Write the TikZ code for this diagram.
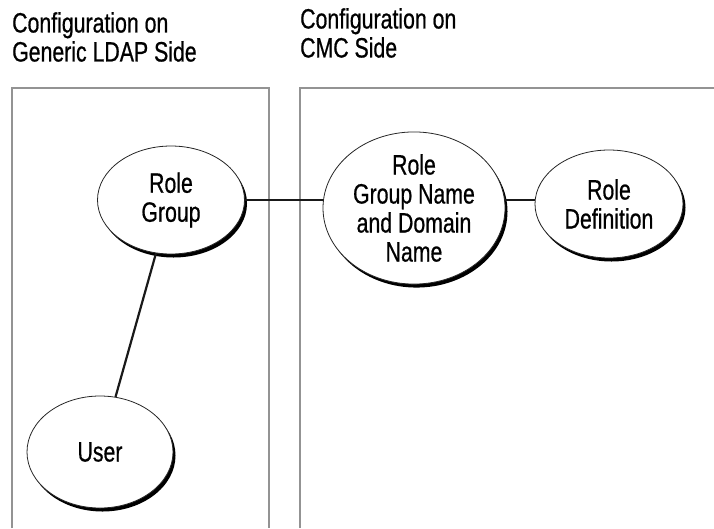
\documentclass[tikz,border=0pt]{standalone}
\usepackage{fontspec}
\setmainfont{Liberation Sans}[FakeStretch=0.76, FakeBold=0.6]
\usepackage{tikz}
\usetikzlibrary{shapes.geometric, shadows, positioning}

\tikzset{
  rolenode/.style={ellipse, draw=black!85, line width=0.8pt, fill=white, align=center,
    inner sep=0pt, drop shadow={shadow xshift=2.5pt, shadow yshift=-3.5pt, fill=black, opacity=1}},
  panel/.style={draw=gray!85, line width=1.2pt},
  heading/.style={anchor=north west, inner sep=0pt, align=left},
  link/.style={line width=2.2pt, black!90}
}

\begin{document}
\begin{tikzpicture}[x=1pt, y=-1pt, font=\fontsize{28}{29}\selectfont]
\useasboundingbox (0,0) rectangle (714,528);

% Panels (open at the bottom and at the right)
\draw[panel] (12,528) -- (12,88) -- (269,88) -- (269,528);
\draw[panel] (300,528) -- (300,88) -- (714,88);

% Headings
\node[heading] (lhead) at (12,12) {Configuration on\\Generic LDAP Side};
\node[heading] (rhead) at (300,8) {Configuration on\\CMC Side};

% Generic LDAP side
\node[rolenode, minimum width=147pt, minimum height=108pt] (rg) at (171,200) {Role\\Group};
\node[rolenode, minimum width=146pt, minimum height=112pt] (user) at (100,452) {User};

% CMC side
\node[rolenode, minimum width=182pt, minimum height=125pt] (rgname) at (414,208) {Role\\Group Name\\and Domain\\Name};
\node[rolenode, minimum width=148pt, minimum height=108pt] (rdef) at (609,204) {Role\\Definition};

% Connectors
\draw[link] (rg.east) -- (rg.east -| rgname.west);
\draw[link] (rg.east -| rgname.east) -- (rg.east -| rdef.west);
\draw[link] (rg) -- (user);
\end{tikzpicture}
\end{document}
